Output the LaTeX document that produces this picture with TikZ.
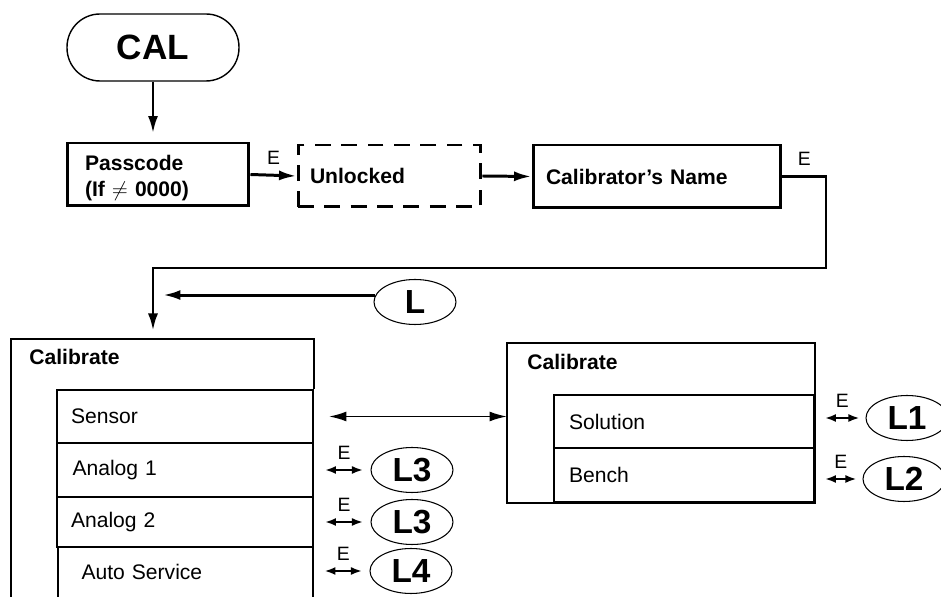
\documentclass[tikz,border=0pt]{standalone}
\usepackage{fontspec}
\setmainfont{Liberation Sans}
\usetikzlibrary{shapes.geometric,arrows.meta}

\begin{document}
\begin{tikzpicture}[x=0.02cm,y=-0.02cm,
    term/.style={draw,line width=0.8pt,rounded corners=0.66cm,minimum width=3.44cm,minimum height=1.34cm,font=\fontsize{20}{24}\selectfont\bfseries},
    box/.style={draw,line width=1.7pt,inner ysep=0pt,align=left,font=\fontsize{12}{14.5}\selectfont\bfseries},
    row/.style={draw,line width=1.1pt,inner ysep=0pt,align=left,font=\fontsize{12}{14}\selectfont},
    title/.style={anchor=west,inner sep=0pt,font=\fontsize{12}{14}\selectfont\bfseries},
    lbl/.style={draw,ellipse,line width=0.6pt,inner sep=0pt,minimum width=1.64cm,minimum height=0.9cm,font=\fontsize{19}{22}\selectfont\bfseries},
    elab/.style={inner sep=1pt,font=\fontsize{11}{13}\selectfont},
    flow/.style={line width=1.7pt,>={Latex[length=3.5mm,width=2mm]}},
    link/.style={line width=1pt,>={Latex[length=3.5mm,width=2mm]}},
    eline/.style={line width=1.3pt,{Latex[length=2.2mm,width=1.6mm]}-{Latex[length=2.2mm,width=1.6mm]}},
    calline/.style={line width=1.1pt}]

    \useasboundingbox (0,0) rectangle (941,597);

    % top row
    \node[term] (cal) at (153,47.5) {CAL};
    \node[box,text width=2.92cm,inner xsep=0.36cm,minimum height=1.26cm,text height=13pt] (pass) at (158,174.5) {Passcode\\(If $\neq$ 0000)};
    \node[box,dash pattern=on 9pt off 6pt,text width=3.18cm,inner xsep=0.24cm,minimum height=1.24cm] (unl) at (389.5,176) {Unlocked};
    \node[box,text width=4.44cm,inner xsep=0.26cm,minimum height=1.26cm] (name) at (657,176.5) {Calibrator's Name};

    \coordinate (turn) at (826,268);
    \coordinate (drop) at (153,331);

    \draw[flow,->] (cal.south) -- ([yshift=0.16cm]cal.south |- pass.north);
    \draw[flow,->] (pass.east) -- (unl.west) node[midway,above=4pt,elab] (e0) {E};
    \draw[flow,->] (unl.east) -- (name.west);
    \draw[flow,->] (name.east) -| (turn) -| (drop);
    \path (name.east) -- (name.east -| turn) node[midway,above=5pt,elab] (e1) {E};

    \node[lbl] (l) at (415,302) {L};
    \draw[flow,->,shorten >=0.2cm] (l.170) -- (l.170 -| drop);

    % left calibrate
    \node[title] (lcal) at (29,357) {Calibrate};
    \node[row,text width=4.56cm,inner xsep=0.28cm,minimum height=1.06cm] (sensor) at (185,416.5) {Sensor};
    \node[row,text width=4.5cm,inner xsep=0.31cm,minimum height=1.08cm] (ana1) at (185,470) {Analog 1};
    \node[row,text width=4.56cm,inner xsep=0.28cm,minimum height=1.0cm] (ana2) at (185,522) {Analog 2};
    \node[row,draw=none,text width=4.16cm,inner xsep=0.46cm,minimum height=1.0cm] (auto) at (185.5,572) {Auto Service};
    \draw[calline] (auto.south west) -- (auto.north west);
    \draw[calline] (auto.south east) -- (auto.north east);
    \draw[calline] (sensor.north east) |- (11,339) -- (11,597);

    % right calibrate
    \node[title] (rcal) at (527,362) {Calibrate};
    \node[row,text width=4.6cm,inner xsep=0.3cm,minimum height=1.06cm] (sol) at (684,421.5) {Solution};
    \node[row,text width=4.6cm,inner xsep=0.3cm,minimum height=1.08cm] (bench) at (684,475) {Bench};
    \coordinate (rcalnw) at (507,343);
    \draw[calline] (rcalnw) rectangle (bench.south east);

    \draw[link,<->] ([xshift=0.3cm]sensor.east) -- (sensor.east -| rcalnw);

    % loops
    \node[lbl] (l1) at (907,418) {L1};
    \node[lbl] (l2) at (904,479) {L2};
    \node[lbl] (l3a) at (412,470) {L3};
    \node[lbl] (l3b) at (412,522) {L3};
    \node[lbl] (l4) at (411,571) {L4};

    \draw[eline] ([xshift=0.2cm]sol.east |- l1.west) -- ([xshift=-0.12cm]l1.west) node[midway,above=4.5pt,elab] (e2) {E};
    \draw[eline] ([xshift=0.2cm]bench.east |- l2.west) -- ([xshift=-0.12cm]l2.west) node[midway,above=4.5pt,elab] (e3) {E};
    \draw[eline] ([xshift=0.22cm]ana1.east) -- ([xshift=-0.15cm]l3a.west) node[midway,above=4.5pt,elab] (e4) {E};
    \draw[eline] ([xshift=0.22cm]ana2.east) -- ([xshift=-0.15cm]l3b.west) node[midway,above=4.5pt,elab] (e5) {E};
    \draw[eline] ([xshift=0.22cm]auto.east |- l4.west) -- ([xshift=-0.15cm]l4.west) node[midway,above=4.5pt,elab] (e6) {E};
\end{tikzpicture}
\end{document}
